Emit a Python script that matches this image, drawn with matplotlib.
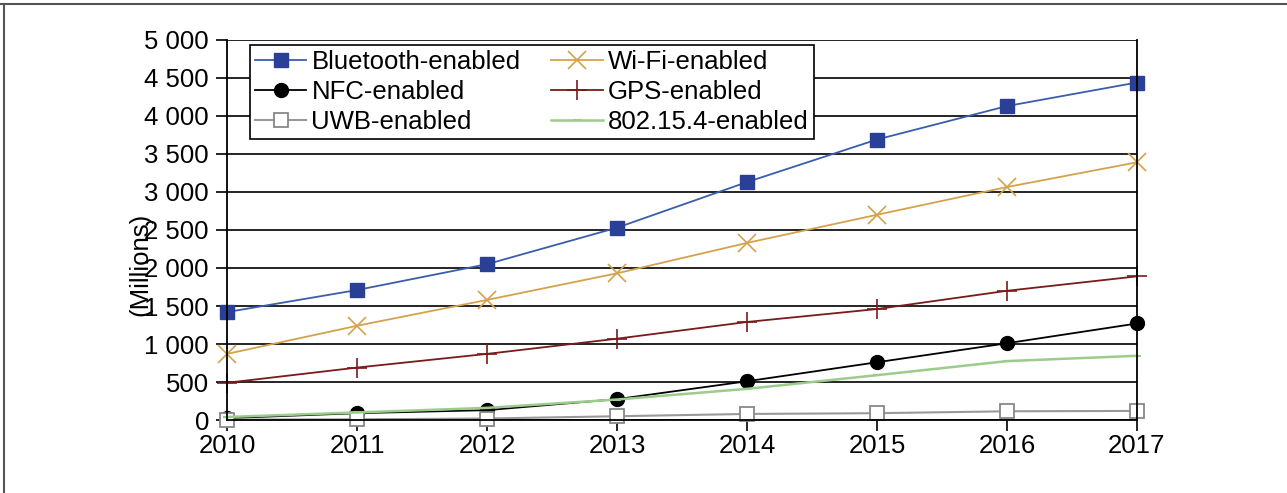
import matplotlib.pyplot as plt
from matplotlib.lines import Line2D
from matplotlib.ticker import FuncFormatter

plt.rcParams['font.family'] = ['Liberation Sans', 'DejaVu Sans']

years = [2010, 2011, 2012, 2013, 2014, 2015, 2016, 2017]
bluetooth = [1420, 1710, 2050, 2530, 3130, 3690, 4130, 4440]
wifi = [870, 1240, 1580, 1930, 2330, 2700, 3065, 3390]
nfc = [25, 90, 130, 275, 510, 760, 1010, 1270]
gps = [490, 690, 870, 1070, 1290, 1460, 1700, 1890]
uwb = [5, 10, 20, 50, 80, 90, 115, 120]
ieee802 = [40, 100, 160, 270, 410, 590, 775, 845]

fig = plt.figure(figsize=(12.87, 4.93), dpi=100)
ax = fig.add_axes([0.1764, 0.148, 0.7070, 0.771])

h_bt, = ax.plot(years, bluetooth, color='#3a5dae', marker='s', markersize=10, clip_on=False,
                markerfacecolor='#2a3f96', markeredgecolor='#2a3f96', lw=1.3, label='Bluetooth-enabled')
h_wf, = ax.plot(years, wifi, color='#d4a24c', marker='x', markersize=13, mew=1.2, clip_on=False,
                lw=1.3, label='Wi-Fi-enabled')
h_nfc, = ax.plot(years, nfc, color='black', marker='o', markersize=10, lw=1.3, clip_on=False,
                 label='NFC-enabled')
h_gps, = ax.plot(years, gps, color='#7a1a1a', marker='+', markersize=15, mew=1.2, clip_on=False,
                 lw=1.3, label='GPS-enabled')
h_uwb, = ax.plot(years, uwb, color='#999999', marker='s', markersize=10, markerfacecolor='white',
                 markeredgecolor='#888888', mew=1.3, lw=1.5, clip_on=False, label='UWB-enabled')
h_802, = ax.plot(years, ieee802, color='#9ccc8c', marker='_', markersize=6, mew=1.5, clip_on=False,
                 lw=1.8, label='802.15.4-enabled')

ax.set_xlim(2010, 2017)
ax.set_ylim(0, 5000)
ax.set_xticks(years)
ax.set_yticks(range(0, 5001, 500))
ax.yaxis.set_major_formatter(FuncFormatter(lambda v, p: f"{int(v):,}".replace(',', ' ')))
ax.grid(axis='y', color='black', lw=1.2)
ax.set_axisbelow(True)
ax.tick_params(axis='both', direction='out', length=8, width=1.2, labelsize=18.5, pad=5)
ax.tick_params(axis='x', pad=2)
for s in ['left', 'right', 'bottom']:
    ax.spines[s].set_linewidth(1.3)
ax.spines['top'].set_visible(False)

ax.set_ylabel('(Millions)', fontsize=18.5)
ax.yaxis.set_label_coords(-0.082, 0.41)

handles = [h_bt, h_nfc, h_uwb, h_wf, h_gps, h_802]
leg = ax.legend(handles=handles, ncol=2, loc='upper left', bbox_to_anchor=(0.025, 0.986),
                fontsize=18.5, frameon=True, fancybox=False, edgecolor='black', framealpha=1,
                handlelength=2.0, handletextpad=0.2, columnspacing=1.2,
                borderpad=0.2, labelspacing=0.22, borderaxespad=0)
leg.get_frame().set_linewidth(1.2)

fig.add_artist(Line2D([0.003, 0.003], [0, 0.992], color='#555555', lw=1.5, transform=fig.transFigure))
fig.add_artist(Line2D([0, 1], [0.992, 0.992], color='#555555', lw=1.5, transform=fig.transFigure))

fig.savefig('out.png', dpi=100)
